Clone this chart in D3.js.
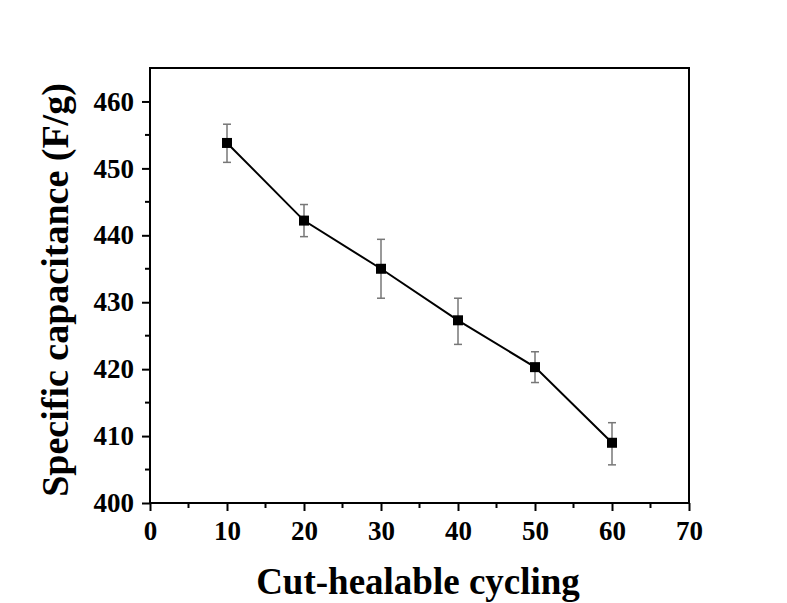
<!DOCTYPE html>
<html>
<head>
<meta charset="utf-8">
<script src="https://cdn.jsdelivr.net/npm/d3@7"></script>
<style>
  body { margin: 0; background: #fff; }
  text { font-family: "Liberation Serif", "Times New Roman", serif; font-weight: bold; fill: #000; }
</style>
</head>
<body>
<div id="chart"></div>
<script>
const cycles = [10, 20, 30, 40, 50, 60];
const capacitance = [453.8, 442.2, 435.0, 427.3, 420.3, 409.0];
const errUp = [456.6, 444.6, 439.4, 430.6, 422.6, 412.0];
const errDown = [450.9, 439.8, 430.6, 423.7, 418.0, 405.7];
const xTicks = [0, 10, 20, 30, 40, 50, 60, 70];
const yTicks = [400, 410, 420, 430, 440, 450, 460];

const width = 787, height = 603;
const margin = {left: 150, right: 98, top: 68, bottom: 100};

const svg = d3.select("#chart").append("svg")
    .attr("width", width)
    .attr("height", height);

const x = d3.scaleLinear().domain([0, 70]).range([margin.left, width - margin.right]);
const y = d3.scaleLinear().domain([400, 465]).range([height - margin.bottom, margin.top]);

// minor ticks
const xMinor = d3.range(5, 70, 10);
const yMinor = d3.range(405, 465, 10);
svg.append("g").selectAll("line")
    .data(xMinor)
    .join("line")
    .attr("x1", d => x(d)).attr("x2", d => x(d))
    .attr("y1", y(400)).attr("y2", y(400) + 5)
    .attr("stroke", "#000").attr("stroke-width", 2);
svg.append("g").selectAll("line")
    .data(yMinor)
    .join("line")
    .attr("y1", d => y(d)).attr("y2", d => y(d))
    .attr("x1", x(0)).attr("x2", x(0) - 5)
    .attr("stroke", "#000").attr("stroke-width", 2);

// axes
const xAxis = svg.append("g")
    .attr("transform", `translate(0,${y(400)})`)
    .call(d3.axisBottom(x).tickValues(xTicks).tickSize(8).tickPadding(10).tickFormat(d3.format("d")));
const yAxis = svg.append("g")
    .attr("transform", `translate(${x(0)},0)`)
    .call(d3.axisLeft(y).tickValues(yTicks).tickSize(8).tickPadding(8).tickFormat(d3.format("d")));
[xAxis, yAxis].forEach(g => {
    g.select(".domain").remove();
    g.selectAll(".tick line").attr("stroke", "#000").attr("stroke-width", 2);
    g.selectAll(".tick text").style("font-size", "27px").attr("fill", "#000");
});

// frame
svg.append("rect")
    .attr("x", x(0)).attr("y", y(465))
    .attr("width", x(70) - x(0)).attr("height", y(400) - y(465))
    .attr("fill", "none").attr("stroke", "#000").attr("stroke-width", 2);

// error bars
const eb = svg.append("g").attr("stroke", "#777").attr("stroke-width", 1.5);
cycles.forEach((c, i) => {
    eb.append("line").attr("x1", x(c)).attr("x2", x(c)).attr("y1", y(errUp[i])).attr("y2", y(errDown[i]));
    eb.append("line").attr("x1", x(c) - 4).attr("x2", x(c) + 4).attr("y1", y(errUp[i])).attr("y2", y(errUp[i]));
    eb.append("line").attr("x1", x(c) - 4).attr("x2", x(c) + 4).attr("y1", y(errDown[i])).attr("y2", y(errDown[i]));
});

// line
const pts = cycles.map((c, i) => [c, capacitance[i]]);
svg.append("path")
    .datum(pts)
    .attr("fill", "none")
    .attr("stroke", "#000")
    .attr("stroke-width", 2)
    .attr("d", d3.line().x(d => x(d[0])).y(d => y(d[1])));

// markers
svg.selectAll("rect.pt")
    .data(pts)
    .join("rect")
    .attr("class", "pt")
    .attr("x", d => x(d[0]) - 5)
    .attr("y", d => y(d[1]) - 5)
    .attr("width", 10)
    .attr("height", 10)
    .attr("fill", "#000");

// axis titles
svg.append("text")
    .attr("x", 418).attr("y", 594)
    .attr("text-anchor", "middle")
    .style("font-size", "37px")
    .text("Cut-healable cycling");
svg.append("text")
    .attr("transform", "translate(68,290) rotate(-90)")
    .attr("text-anchor", "middle")
    .style("font-size", "38px")
    .text("Specific capacitance (F/g)");
</script>
</body>
</html>
